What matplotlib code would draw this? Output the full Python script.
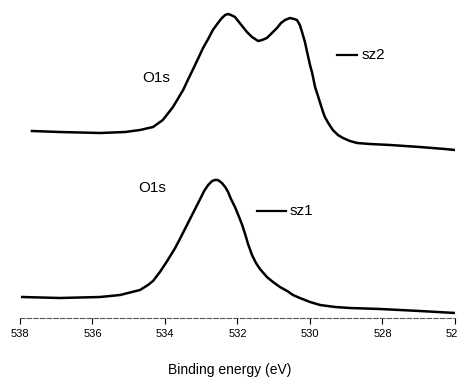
import matplotlib
matplotlib.use('Agg')
import matplotlib.pyplot as plt

plt.rcParams['font.family'] = ['Liberation Sans', 'DejaVu Sans']

# O1s spectra (binding energy in eV, intensity in a.u.)
be_sz2 = [537.67, 536.90, 535.79, 535.10, 534.69, 534.33, 534.06, 533.78, 533.50, 533.37,
          533.17, 532.95, 532.81, 532.68, 532.54, 532.43, 532.34, 532.26, 532.18, 532.07,
          531.96, 531.85, 531.74, 531.60, 531.43, 531.32, 531.19, 531.05, 530.91, 530.80,
          530.69, 530.55, 530.44, 530.36, 530.28, 530.22, 530.14, 530.08, 530.00, 529.94,
          529.86, 529.78, 529.72, 529.64, 529.59, 529.48, 529.37, 529.23, 529.09, 528.90,
          528.70, 528.34, 527.79, 526.97, 526.28, 526.00]
int_sz2 = [187, 186, 185, 186, 188, 191, 198, 211, 228, 238,
           253, 270, 279, 288, 295, 300, 303, 304, 303, 301,
           296, 291, 286, 281, 277, 278, 280, 285, 290, 295,
           298, 300, 299, 298, 293, 286, 276, 266, 253, 245,
           231, 222, 215, 206, 201, 194, 188, 183, 180, 177,
           175, 174, 173, 171, 169, 168]

be_sz1 = [537.94, 536.90, 535.79, 535.24, 534.69, 534.47, 534.33, 534.14, 533.94, 533.72,
          533.59, 533.45, 533.31, 533.17, 533.03, 532.92, 532.81, 532.70, 532.62, 532.54,
          532.43, 532.34, 532.26, 532.18, 532.07, 531.99, 531.88, 531.79, 531.71, 531.60,
          531.49, 531.38, 531.19, 531.02, 530.83, 530.63, 530.47, 530.28, 530.00, 529.72,
          529.31, 528.90, 528.07, 526.97, 526.00]
int_sz1 = [21, 20, 21, 23, 28, 33, 37, 46, 57, 70,
           79, 89, 99, 109, 119, 127, 133, 137, 138, 138,
           135, 131, 126, 119, 111, 104, 94, 84, 74, 63,
           55, 49, 41, 36, 31, 27, 23, 20, 16, 13,
           11, 10, 9, 7, 5]

ticks = [538, 536, 534, 532, 530, 528, 526]

fig = plt.figure(figsize=(4.57, 3.80), dpi=100)
ax = fig.add_axes([20 / 457, 1 - 318 / 380, 435 / 457, 318 / 380])

ax.plot(be_sz2, int_sz2, color='black', lw=1.8, solid_joinstyle='round')
ax.plot(be_sz1, int_sz1, color='black', lw=1.8, solid_joinstyle='round')

# labels next to the curves
ax.text(534.25, 240, 'O1s', fontsize=11, ha='center', va='center')
ax.text(534.36, 130, 'O1s', fontsize=11, ha='center', va='center')
ax.plot([529.26, 528.70], [263, 263], color='black', lw=1.6)
ax.text(528.57, 263, 'sz2', fontsize=11, ha='left', va='center')
ax.plot([531.46, 530.66], [107, 107], color='black', lw=1.6)
ax.text(530.55, 107, 'sz1', fontsize=11, ha='left', va='center')

ax.set_xlim(538, 526)
ax.set_ylim(0, 318)
ax.set_xticks(ticks)
ax.set_xticklabels([str(t) for t in ticks], fontsize=8)
ax.tick_params(axis='x', direction='out', length=4, width=0.8, pad=4)
ax.set_yticks([])
for s in ['left', 'right', 'top']:
    ax.spines[s].set_visible(False)
ax.spines['bottom'].set_linewidth(0.8)
ax.spines['bottom'].set_linestyle((0, (4, 2)))
ax.spines['bottom'].set_color('#555555')

fig.text(230 / 457, 1 - 370 / 380, 'Binding energy (eV)', fontsize=10,
         ha='center', va='center')

fig.savefig('out.png', dpi=100)
